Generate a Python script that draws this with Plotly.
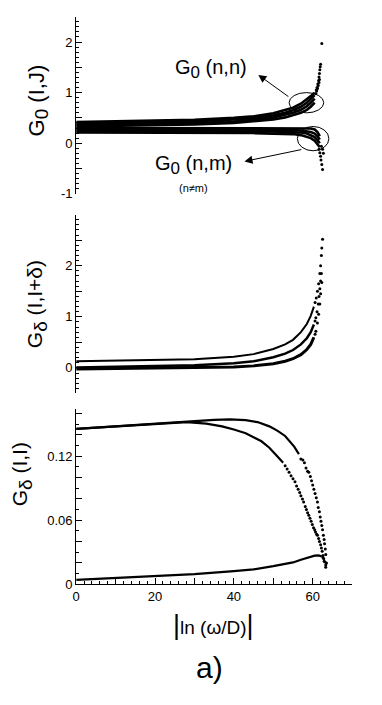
import plotly.graph_objects as go

# ---- top panel: G0(I,J) ----
x_top = [0, 10, 20, 30, 40, 45, 50, 53, 55, 57, 58.5, 59.5, 60.5]
g0_nn1 = [0.42, 0.43, 0.44, 0.46, 0.50, 0.53, 0.59, 0.65, 0.70, 0.78, 0.86, 0.93, 1.00]
g0_nn2 = [0.39, 0.40, 0.41, 0.43, 0.47, 0.50, 0.55, 0.60, 0.65, 0.72, 0.80, 0.87, 0.95]
g0_nn3 = [0.36, 0.37, 0.38, 0.40, 0.43, 0.46, 0.51, 0.56, 0.60, 0.66, 0.73, 0.80, 0.88]
g0_nn4 = [0.33, 0.34, 0.35, 0.37, 0.40, 0.43, 0.47, 0.51, 0.55, 0.60, 0.66, 0.72, 0.80]
nn_tail_x = [60.9, 61.1, 61.3, 61.5, 61.6, 61.7, 61.8, 61.9, 62.0, 60.8, 61.0, 61.2, 61.4, 61.6, 61.7, 62.3]
nn_tail_y = [1.05, 1.10, 1.17, 1.24, 1.31, 1.38, 1.45, 1.51, 1.56, 0.98, 1.03, 1.08, 1.14, 1.20, 1.26, 1.97]

x_nm = [0, 10, 20, 30, 40, 45, 50, 53, 55, 57, 58.5, 59.5, 60.5, 61.2, 61.8]
g0_nm1 = [0.30, 0.30, 0.30, 0.30, 0.30, 0.30, 0.30, 0.30, 0.30, 0.30, 0.30, 0.29, 0.27, 0.22, 0.14]
g0_nm2 = [0.27, 0.27, 0.27, 0.27, 0.27, 0.27, 0.27, 0.26, 0.26, 0.25, 0.24, 0.22, 0.19, 0.14, 0.07]
g0_nm3 = [0.24, 0.24, 0.24, 0.24, 0.23, 0.23, 0.23, 0.22, 0.22, 0.21, 0.19, 0.16, 0.12, 0.06, 0.00]
g0_nm4 = [0.21, 0.21, 0.21, 0.21, 0.20, 0.20, 0.19, 0.19, 0.18, 0.16, 0.13, 0.10, 0.05, -0.02, -0.08]
nm_tail_x = [61.6, 61.8, 62.0, 62.1, 62.3, 62.5, 62.2, 62.5, 62.7]
nm_tail_y = [-0.12, -0.19, -0.26, -0.33, -0.42, -0.52, -0.06, -0.12, -0.20]

# ---- middle panel: Gdelta(I,I+delta) ----
x_mid = [0, 10, 20, 30, 40, 45, 50, 53, 55, 57, 58.5, 59.5, 60.3]
gd_up = [0.13, 0.14, 0.15, 0.17, 0.22, 0.27, 0.37, 0.46, 0.55, 0.70, 0.86, 1.02, 1.20]
gd_md = [0.01, 0.02, 0.03, 0.05, 0.09, 0.13, 0.21, 0.28, 0.35, 0.46, 0.58, 0.70, 0.85]
gd_lo = [-0.02, -0.01, 0.00, 0.00, 0.02, 0.04, 0.08, 0.13, 0.18, 0.26, 0.36, 0.46, 0.60]
gd_up_tx = [60.6, 60.9, 61.2, 61.5, 61.8, 62.0, 62.2, 62.3, 62.5]
gd_up_ty = [1.28, 1.37, 1.50, 1.65, 1.85, 2.00, 2.20, 2.35, 2.52]
gd_md_tx = [60.6, 60.8, 61.1, 61.4, 61.6, 61.8, 62.0, 62.2]
gd_md_ty = [0.92, 0.98, 1.10, 1.25, 1.40, 1.55, 1.70, 1.85]
gd_lo_tx = [60.6, 60.8, 61.2, 61.5, 61.8, 62.0, 62.3]
gd_lo_ty = [0.66, 0.72, 0.88, 1.05, 1.25, 1.45, 1.67]

# ---- bottom panel: Gdelta(I,I) ----
gii_a_x = [0, 10, 20, 30, 35, 39, 43, 46, 49, 51, 53, 55.3, 56.5]
gii_a_y = [0.1456, 0.148, 0.1508, 0.1533, 0.154, 0.1545, 0.1538, 0.152, 0.148, 0.144, 0.139, 0.129, 0.122]
gii_a_tx = [57.0, 57.5, 57.9, 58.3, 58.7, 59.0, 59.4, 59.7, 60.0, 60.3, 60.6, 60.9, 61.2, 61.4, 61.7, 61.9,
            62.1, 62.3, 62.5, 62.7, 62.9, 63.0, 63.2, 63.3, 63.5]
gii_a_ty = [0.1175, 0.1165, 0.114, 0.109, 0.106, 0.105, 0.101, 0.097, 0.093,
            0.089, 0.085, 0.081, 0.077, 0.072, 0.068, 0.063, 0.059, 0.055, 0.051, 0.046, 0.042, 0.038, 0.033,
            0.028, 0.020]
gii_b_x = [0, 10, 20, 28, 33, 37, 40, 43, 47, 49, 51, 52.5]
gii_b_y = [0.1456, 0.148, 0.1505, 0.152, 0.1505, 0.148, 0.145, 0.1416, 0.134, 0.128, 0.120, 0.114]
gii_b_tx = [53.0, 53.5, 54.0, 54.5, 55.0, 55.5, 55.9, 56.3, 56.7, 57.0, 57.4, 57.7, 58.1, 58.4, 58.7, 59.0,
            59.3, 59.6, 59.9, 60.2, 60.5, 60.7, 61.0, 61.2, 61.5, 61.7, 62.0, 62.2, 62.4, 62.6, 62.9]
gii_b_ty = [0.111, 0.108, 0.105, 0.1016, 0.099, 0.096, 0.092, 0.089, 0.086, 0.083, 0.080, 0.077, 0.073, 0.070,
            0.067, 0.0646, 0.062, 0.059, 0.056, 0.053, 0.051, 0.049, 0.047, 0.046, 0.043, 0.040, 0.037, 0.034,
            0.031, 0.027, 0.0215]
gii_c_x = [0, 10, 20, 30, 40, 45, 50, 53, 55, 57, 59, 60.5, 61.5, 62.3]
gii_c_y = [0.0042, 0.006, 0.0077, 0.0095, 0.0123, 0.014, 0.017, 0.019, 0.0205, 0.023, 0.0255, 0.0268, 0.027, 0.026]
gii_c_tx = [62.6, 62.8, 63.1, 63.3, 63.3]
gii_c_ty = [0.025, 0.024, 0.021, 0.018, 0.016]

fig = go.Figure()

def line(x, y, xa, ya, w=2):
    fig.add_trace(go.Scatter(x=x, y=y, mode="lines", xaxis=xa, yaxis=ya,
                             line=dict(color="black", width=w), showlegend=False, hoverinfo="skip"))

def dots(x, y, xa, ya, s=3):
    fig.add_trace(go.Scatter(x=x, y=y, mode="markers", xaxis=xa, yaxis=ya,
                             marker=dict(color="black", size=s), showlegend=False, hoverinfo="skip"))

for yy in [g0_nn1, g0_nn2, g0_nn3, g0_nn4]:
    line(x_top, yy, "x3", "y3", 2.6)
for yy in [g0_nm1, g0_nm2, g0_nm3, g0_nm4]:
    line(x_nm, yy, "x3", "y3", 2.6)
dots(nn_tail_x, nn_tail_y, "x3", "y3")
dots(nm_tail_x, nm_tail_y, "x3", "y3")

line(x_mid, gd_up, "x2", "y2", 2)
line(x_mid, gd_md, "x2", "y2", 2.5)
line(x_mid, gd_lo, "x2", "y2", 3)
dots(gd_up_tx, gd_up_ty, "x2", "y2")
dots(gd_md_tx, gd_md_ty, "x2", "y2")
dots(gd_lo_tx, gd_lo_ty, "x2", "y2")

line(gii_a_x, gii_a_y, "x", "y", 2.2)
line(gii_b_x, gii_b_y, "x", "y", 2.2)
line(gii_c_x, gii_c_y, "x", "y", 2.2)
dots(gii_a_tx, gii_a_ty, "x", "y")
dots(gii_b_tx, gii_b_ty, "x", "y")
dots(gii_c_tx, gii_c_ty, "x", "y")

fnt = dict(family="Liberation Sans, Arial", size=13, color="black")
xdom = [0.191, 0.921]
common_y = dict(showline=True, linecolor="black", linewidth=1, ticks="inside", ticklen=6,
                tickcolor="black", showgrid=False, zeroline=False, tickfont=fnt,
                minor=dict(ticks="inside", ticklen=3, tickcolor="black", tick0=0))

fig.update_layout(
    width=382, height=705,
    margin=dict(l=0, r=0, t=0, b=0),
    paper_bgcolor="white", plot_bgcolor="white",
    xaxis=dict(domain=xdom, anchor="y", range=[0, 70], showline=True, linecolor="black",
               ticks="inside", ticklen=6, tickcolor="black", showgrid=False, zeroline=False,
               tickvals=[0, 10, 20, 30, 40, 50, 60, 70],
               ticktext=["0", "", "20", "", "40", "", "60", ""], tickfont=fnt,
               minor=dict(ticks="inside", ticklen=3, tickcolor="black", dtick=2, tick0=0)),
    yaxis=dict(domain=[0.1617, 0.4128], anchor="x", range=[0, 0.164],
               tickvals=[0, 0.02, 0.04, 0.06, 0.08, 0.10, 0.12, 0.14, 0.16],
               ticktext=["0", "", "", "0.06", "", "", "0.12", "", ""], **common_y),
    xaxis2=dict(domain=xdom, anchor="y2", range=[0, 70], visible=False),
    yaxis2=dict(domain=[0.4355, 0.692], anchor="x2", range=[-0.5, 3],
                tickvals=[-0.5, 0, 0.5, 1, 1.5, 2, 2.5, 3],
                ticktext=["", "0", "", "1", "", "2", "", ""], **common_y),
    xaxis3=dict(domain=xdom, anchor="y3", range=[0, 70], visible=False),
    yaxis3=dict(domain=[0.722, 0.976], anchor="x3", range=[-1, 2.5],
                tickvals=[-1, -0.5, 0, 0.5, 1, 1.5, 2, 2.5],
                ticktext=["-1", "", "0", "", "1", "", "2", ""], **common_y),
)
fig.layout.yaxis.minor.dtick = 0.01
fig.layout.yaxis2.minor.dtick = 0.1
fig.layout.yaxis3.minor.dtick = 0.1

# ellipses around the curve ends
fig.add_shape(type="circle", xref="x3", yref="y3", x0=54, x1=62.8, y0=0.60, y1=1.0,
              line=dict(color="black", width=1))
fig.add_shape(type="circle", xref="x3", yref="y3", x0=56.1, x1=64.1, y0=-0.15, y1=0.33,
              line=dict(color="black", width=1))

# arrows
fig.add_annotation(x=46.2, y=1.35, ax=54.2, ay=0.90, xref="x3", yref="y3", axref="x3", ayref="y3",
                   text="", showarrow=True, arrowhead=2, arrowsize=1.6, arrowwidth=1, arrowcolor="black")
fig.add_annotation(x=42.7, y=-0.36, ax=57.5, ay=-0.12, xref="x3", yref="y3", axref="x3", ayref="y3",
                   text="", showarrow=True, arrowhead=2, arrowsize=1.6, arrowwidth=1, arrowcolor="black")

big = dict(family="Liberation Sans, Arial", color="black")
def g(sub, size):
    return "G<sub><span style='font-size:%dpx'>%s</span></sub>" % (size, sub)

def label(px, py, text, size, angle=0):
    # place text centred on a pixel position of the 382x705 page
    fig.add_annotation(x=px / 382, y=1 - py / 705, xref="paper", yref="paper", showarrow=False,
                       xanchor="center", yanchor="middle", textangle=angle,
                       text=text, font=dict(size=size, **big))

label(209, 70, g("0", 17) + " (n,n)", 20)
label(192, 167, g("0", 17) + " (n,m)", 20)
label(191, 190, "(n≠m)", 11)

# y-axis titles
label(35, 102, g("0", 19) + " (I,J)", 22, -90)
label(33, 308, g("δ", 19) + " (I,I+δ)", 21, -90)
label(18, 480, g("δ", 19) + " (I,I)", 21, -90)

# x title and panel label
label(212, 632, "<span style='font-size:27px'>|</span>ln (ω/D)<span style='font-size:27px'>|</span>", 19)
label(208, 675, "a)", 30)

fig.write_html("out.html", config={"displayModeBar": False},
               post_script="document.documentElement.style.margin='0px';"
                           "document.body.style.margin='0px';"
                           "document.body.style.overflow='hidden';"
                           "document.documentElement.style.overflow='hidden';")
